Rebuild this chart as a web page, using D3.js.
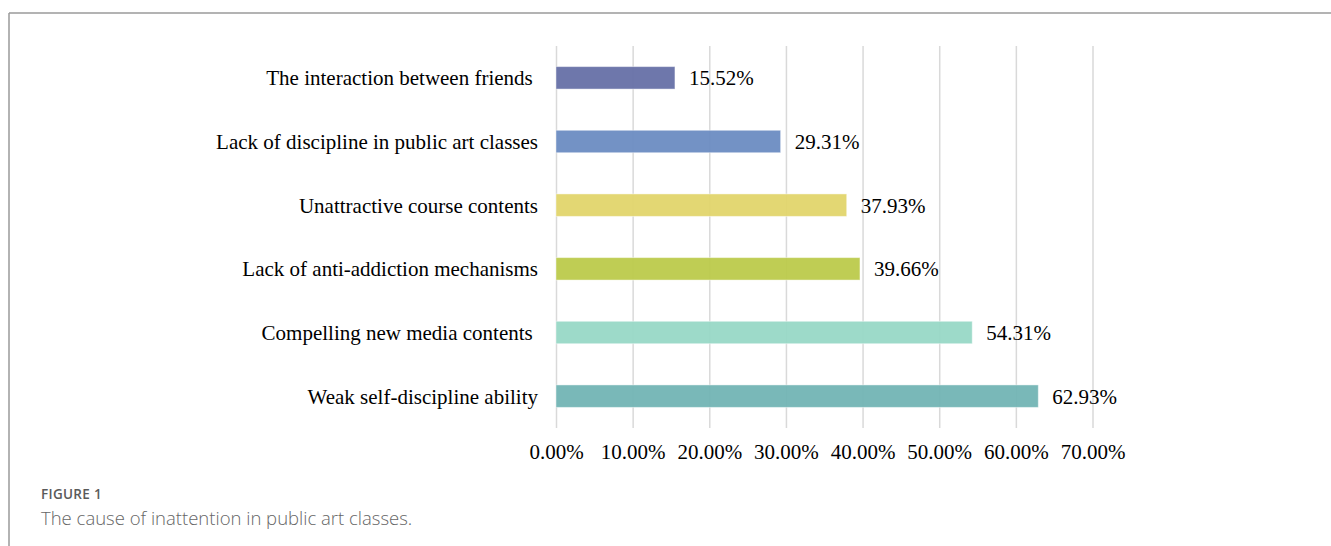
<!DOCTYPE html>
<html>
<head>
<meta charset="utf-8">
<script src="https://cdn.jsdelivr.net/npm/d3@7"></script>
<style>
  html, body { margin: 0; padding: 0; background: #fff; }
  svg { display: block; }
</style>
</head>
<body>
<svg id="chart" width="1331" height="546"></svg>
<script>
// Causes of inattention, top to bottom, with the share of respondents citing each
const categories = [
  "The interaction between friends ",
  "Lack of discipline in public art classes",
  "Unattractive course contents",
  "Lack of anti-addiction mechanisms",
  "Compelling new media contents ",
  "Weak self-discipline ability"
];
const values = [0.1552, 0.2931, 0.3793, 0.3966, 0.5431, 0.6293];
const barColors = ["#6670a6", "#6b8cc2", "#e2d56c", "#bcca4b", "#98d8c6", "#72b4b4"];
const tickValues = [0, 0.1, 0.2, 0.3, 0.4, 0.5, 0.6, 0.7];
const figureLabel = "FIGURE 1";
const caption = "The cause of inattention in public art classes.";

const svg = d3.select("#chart");
const serif = "'Liberation Serif', 'Times New Roman', serif";
const fontSize = "21px";

// frame lines along the top and left
svg.append("line").attr("x1", 9).attr("x2", 1331).attr("y1", 13).attr("y2", 13)
  .attr("stroke", "#9a9a9a").attr("stroke-width", 1.5);
svg.append("line").attr("x1", 9).attr("x2", 9).attr("y1", 13).attr("y2", 546)
  .attr("stroke", "#9a9a9a").attr("stroke-width", 1.5);

const plotTop = 46, plotBottom = 428;
const x = d3.scaleLinear().domain([0, 0.7]).range([556, 1092.5]);
const y = d3.scaleBand().domain(categories).range([plotTop, plotBottom])
  .paddingInner(0.647).paddingOuter(0.3235);

// value axis with full-height gridlines
const xAxis = d3.axisBottom(x)
  .tickValues(tickValues)
  .tickFormat(d3.format(".2%"))
  .tickSize(-(plotBottom - plotTop))
  .tickPadding(16);

const gx = svg.append("g").attr("transform", `translate(0,${plotBottom})`).call(xAxis);
gx.select(".domain").remove();
gx.selectAll(".tick line").attr("stroke", "#d9d9d9").attr("stroke-width", 1.5);
gx.selectAll(".tick text").attr("fill", "#000")
  .style("font-family", serif).style("font-size", fontSize);

// bars
svg.append("g").selectAll("rect")
  .data(categories)
  .join("rect")
  .attr("x", x(0))
  .attr("y", d => y(d))
  .attr("width", (d, i) => x(values[i]) - x(0))
  .attr("height", y.bandwidth())
  .attr("fill", (d, i) => barColors[i])
  .attr("fill-opacity", 0.95)
  .attr("stroke", "#ffffff")
  .attr("stroke-opacity", 0.45)
  .attr("stroke-width", 1);

// value labels
svg.append("g").selectAll("text")
  .data(categories)
  .join("text")
  .attr("x", (d, i) => x(values[i]) + 14)
  .attr("y", d => y(d) + y.bandwidth() / 2)
  .attr("dy", "0.35em")
  .style("font-family", serif).style("font-size", fontSize)
  .attr("fill", "#000")
  .text((d, i) => d3.format(".2%")(values[i]));

// category labels
svg.append("g").selectAll("text")
  .data(categories)
  .join("text")
  .attr("x", 538)
  .attr("y", d => y(d) + y.bandwidth() / 2)
  .attr("dy", "0.35em")
  .attr("text-anchor", "end")
  .style("white-space", "pre")
  .style("font-family", serif).style("font-size", fontSize)
  .attr("fill", "#000")
  .text(d => d);

// figure caption
svg.append("text").attr("x", 41).attr("y", 499)
  .style("font-family", "'Open Sans', sans-serif").style("font-size", "13.5px")
  .style("font-weight", 600).style("letter-spacing", "0.3px").attr("fill", "#5a5a5a")
  .text(figureLabel);
svg.append("text").attr("x", 41).attr("y", 525)
  .style("font-family", "'Open Sans', sans-serif").style("font-size", "18.5px")
  .style("font-weight", 300).attr("fill", "#666666")
  .text(caption);
</script>
</body>
</html>
